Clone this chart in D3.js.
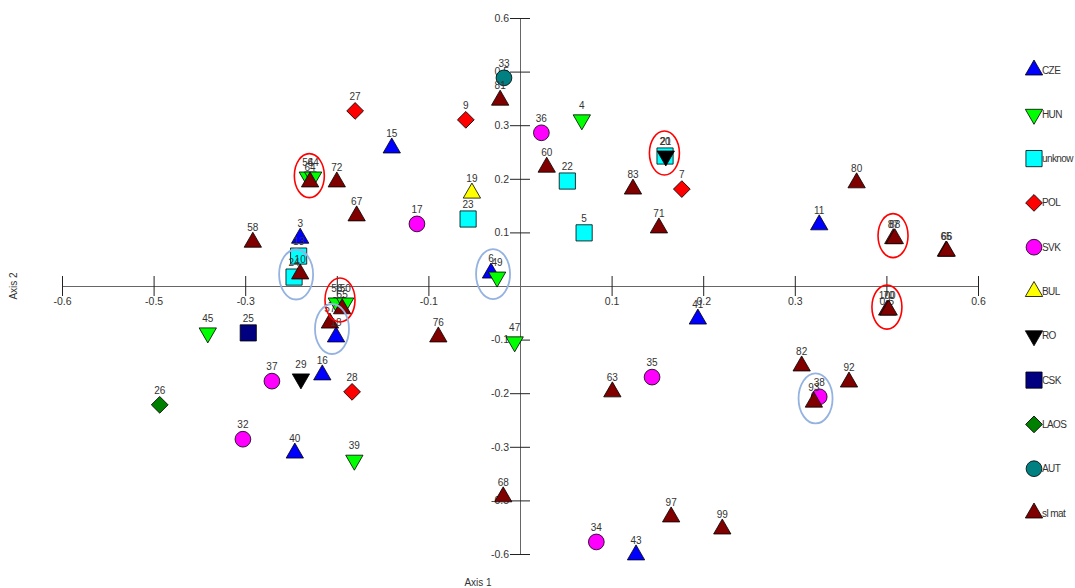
<!DOCTYPE html>
<html>
<head>
<meta charset="utf-8">
<script src="https://cdn.jsdelivr.net/npm/d3@7"></script>
<style>
  body { margin: 0; background: #fff; }
  text { font-family: "Liberation Sans", Arial, sans-serif; }
</style>
</head>
<body>
<div id="chart"></div>
<script>
// groups (legend order)
let groups = ["CZE", "HUN", "unknow", "POL", "SVK", "BUL", "RO", "CSK", "LAOS", "AUT", "sl mat"];

// points: label, group, axis 1, axis 2
let pointIds = ["33", "81", "9", "36", "4", "60", "22", "19", "23", "5", "6", "49",
  "27", "15", "54", "64", "64", "72", "67", "17", "58", "3", "13", "24", "10",
  "56", "50", "55", "57", "18", "45", "25", "37", "29", "16", "28", "26", "32", "40", "39",
  "76", "47", "41", "63", "35", "82", "92", "38", "93", "68", "97", "99", "34", "43",
  "20", "21", "83", "7", "71", "80", "11", "87", "88", "65", "66", "100", "70"];
let pointGroups = ["AUT", "sl mat", "POL", "SVK", "HUN", "sl mat", "unknow", "BUL", "unknow", "unknow", "CZE", "HUN",
  "POL", "CZE", "HUN", "HUN", "sl mat", "sl mat", "sl mat", "SVK", "sl mat", "CZE", "unknow", "unknow", "sl mat",
  "HUN", "HUN", "sl mat", "sl mat", "CZE", "HUN", "CSK", "SVK", "RO", "CZE", "POL", "LAOS", "SVK", "CZE", "HUN",
  "sl mat", "HUN", "CZE", "sl mat", "SVK", "sl mat", "sl mat", "SVK", "sl mat", "sl mat", "sl mat", "sl mat", "SVK", "CZE",
  "unknow", "RO", "sl mat", "POL", "sl mat", "sl mat", "CZE", "sl mat", "sl mat", "sl mat", "sl mat", "sl mat", "sl mat"];
let axis1 = [-0.021, -0.026, -0.071, 0.028, 0.081, 0.035, 0.062, -0.063, -0.068, 0.084, -0.038, -0.030,
  -0.216, -0.168, -0.278, -0.271, -0.275, -0.240, -0.214, -0.135, -0.350, -0.288, -0.290, -0.296, -0.288,
  -0.240, -0.229, -0.233, -0.249, -0.241, -0.409, -0.356, -0.325, -0.287, -0.259, -0.220, -0.472, -0.363, -0.295, -0.217,
  -0.107, -0.007, 0.233, 0.121, 0.173, 0.369, 0.431, 0.392, 0.385, -0.022, 0.198, 0.265, 0.100, 0.152,
  0.190, 0.191, 0.148, 0.212, 0.182, 0.441, 0.392, 0.489, 0.491, 0.558, 0.559, 0.481, 0.483];
let axis2 = [0.466, 0.416, 0.372, 0.343, 0.372, 0.266, 0.235, 0.208, 0.150, 0.119, 0.029, 0.020,
  0.392, 0.309, 0.244, 0.244, 0.233, 0.233, 0.157, 0.139, 0.098, 0.107, 0.067, 0.020, 0.027,
  -0.038, -0.038, -0.051, -0.083, -0.114, -0.105, -0.105, -0.213, -0.208, -0.199, -0.237, -0.266, -0.343, -0.374, -0.390,
  -0.114, -0.125, -0.074, -0.237, -0.204, -0.179, -0.215, -0.248, -0.260, -0.472, -0.517, -0.544, -0.573, -0.602,
  0.291, 0.291, 0.217, 0.217, 0.130, 0.231, 0.137, 0.106, 0.106, 0.078, 0.078, -0.054, -0.054];

// tick labels as printed on the original
let tickValues = [-0.6, -0.48, -0.36, -0.24, -0.12, 0, 0.12, 0.24, 0.36, 0.48, 0.6];
let xTickLabels = ["-0.6", "-0.5", "-0.3", "-0.2", "-0.1", "", "0.1", "0.2", "0.3", "0.5", "0.6"];
let yTickLabels = ["-0.6", "-0.5", "-0.3", "-0.2", "-0.1", "", "0.1", "0.2", "0.3", "0.5", "0.6"];

// circled groups of points
let redRings = [["54", "64"], ["20", "21"], ["87", "88"], ["100", "70"], ["56", "50"]];
let blueRings = [["24", "10"], ["6", "49"], ["57", "18"], ["38", "93"]];

let styles = {
  "CZE":    {shape: "up",     fill: "#0000ff"},
  "HUN":    {shape: "down",   fill: "#00ff00"},
  "unknow": {shape: "square", fill: "#00ffff"},
  "POL":    {shape: "diamond", fill: "#ff0000"},
  "SVK":    {shape: "circle", fill: "#ff00ff"},
  "BUL":    {shape: "up",     fill: "#ffff00"},
  "RO":     {shape: "down",   fill: "#000000"},
  "CSK":    {shape: "square", fill: "#000080"},
  "LAOS":   {shape: "diamond", fill: "#008000"},
  "AUT":    {shape: "circle", fill: "#008080"},
  "sl mat": {shape: "up",     fill: "#800000"}
};

let width = 1075, height = 588;

let svg = d3.select("#chart").append("svg")
    .attr("width", width)
    .attr("height", height);

let x = d3.scaleLinear().domain([-0.6, 0.6]).range([62, 978]);
let y = d3.scaleLinear().domain([-0.6, 0.6]).range([554, 18]);

// x axis
let xAxis = svg.append("g")
    .attr("transform", "translate(0," + y(0) + ")")
    .call(d3.axisBottom(x).tickValues(tickValues).tickSizeOuter(0)
      .tickFormat((d, i) => xTickLabels[i]));
xAxis.select(".domain").attr("stroke", "#666");
xAxis.selectAll(".tick line").attr("y1", -10).attr("y2", 10).attr("stroke", "#222");
xAxis.selectAll(".tick text").attr("y", 12).attr("fill", "#333").style("font-size", "10.5px");

// y axis
let yAxis = svg.append("g")
    .attr("transform", "translate(" + x(0) + ",0)")
    .call(d3.axisLeft(y).tickValues(tickValues).tickSizeOuter(0)
      .tickFormat((d, i) => yTickLabels[i]));
yAxis.select(".domain").attr("stroke", "#666");
yAxis.selectAll(".tick line").attr("x1", -10).attr("x2", 10).attr("stroke", "#222");
yAxis.selectAll(".tick text").attr("x", -11).attr("fill", "#333").style("font-size", "10.5px");
yAxis.selectAll(".tick").filter(d => d === 0).select("line").remove();
xAxis.selectAll(".tick").filter(d => d === 0).select("line").remove();

svg.append("text")
    .attr("x", 478).attr("y", 586)
    .attr("text-anchor", "middle")
    .attr("fill", "#333").style("font-size", "10px")
    .text("Axis 1");
svg.append("text")
    .attr("transform", "translate(17," + y(0) + ") rotate(-90)")
    .attr("text-anchor", "middle")
    .attr("fill", "#333").style("font-size", "10px")
    .text("Axis 2");

function symbolPath(shape) {
  if (shape === "circle") return d3.symbol(d3.symbolCircle, 195)();
  if (shape === "square") return d3.symbol(d3.symbolSquare, 262)();
  if (shape === "diamond") return d3.symbol(d3.symbolSquare, 140)();
  return d3.symbol(d3.symbolTriangle, 130)();
}
function symbolRotate(shape) {
  if (shape === "down") return 180;
  if (shape === "diamond") return 45;
  return 0;
}

let points = pointIds.map((id, i) => ({id: id, group: pointGroups[i], a1: axis1[i], a2: axis2[i]}));

let pt = svg.append("g").selectAll("g")
    .data(points)
    .enter().append("g")
    .attr("transform", d => "translate(" + x(d.a1) + "," + y(d.a2) + ")");

pt.append("text")
    .attr("y", -11)
    .attr("text-anchor", "middle")
    .attr("fill", "#333")
    .style("font-size", "10px")
    .text(d => d.id);

pt.append("path")
    .attr("d", d => symbolPath(styles[d.group].shape))
    .attr("transform", d => "rotate(" + symbolRotate(styles[d.group].shape) + ")")
    .attr("fill", d => styles[d.group].fill)
    .attr("stroke", "#000")
    .attr("stroke-width", 0.8);

// rings
function ringCenter(ids) {
  let m = points.filter(p => ids.indexOf(p.id) >= 0);
  return [d3.mean(m, p => x(p.a1)), d3.mean(m, p => y(p.a2))];
}
svg.append("g").selectAll("ellipse")
    .data(redRings)
    .enter().append("ellipse")
    .attr("cx", d => ringCenter(d)[0] - 1)
    .attr("cy", d => ringCenter(d)[1] - 3)
    .attr("rx", 15).attr("ry", 22)
    .attr("fill", "none")
    .attr("stroke", "#ff0000")
    .attr("stroke-width", 1.6);
svg.append("g").selectAll("ellipse")
    .data(blueRings)
    .enter().append("ellipse")
    .attr("cx", d => ringCenter(d)[0] - 1)
    .attr("cy", d => ringCenter(d)[1] - 1)
    .attr("rx", 17).attr("ry", 25)
    .attr("fill", "none")
    .attr("stroke", "#95b3e0")
    .attr("stroke-width", 1.8);

// legend
let legend = svg.append("g").selectAll("g")
    .data(groups)
    .enter().append("g")
    .attr("transform", (d, i) => "translate(1034," + (70 + i * 44.3) + ")");

legend.append("path")
    .attr("d", d => symbolPath(styles[d].shape))
    .attr("transform", d => "rotate(" + symbolRotate(styles[d].shape) + ")")
    .attr("fill", d => styles[d].fill)
    .attr("stroke", "#000")
    .attr("stroke-width", 0.8);

legend.append("text")
    .attr("x", 8)
    .attr("dy", "0.35em")
    .attr("fill", "#333")
    .style("font-size", "10px")
    .style("letter-spacing", "-0.6px")
    .text(d => d);
</script>
</body>
</html>
